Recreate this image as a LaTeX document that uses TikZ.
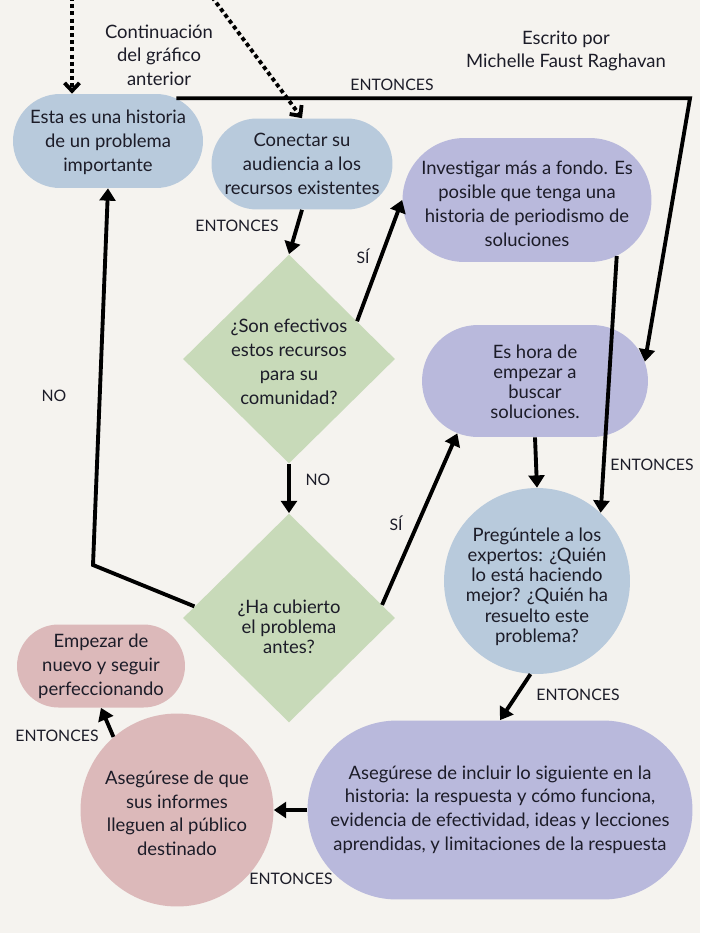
\documentclass[tikz,border=0pt]{standalone}
\usepackage{fontspec}
\setmainfont{Lato}
\usepackage{tikz}
\usepackage{xcolor}
\usetikzlibrary{arrows.meta,positioning,shapes.geometric,shapes.misc}

\definecolor{paper}{HTML}{F5F3EF}
\definecolor{bluefill}{HTML}{B8CADC}
\definecolor{purplefill}{HTML}{B9B9DC}
\definecolor{greenfill}{HTML}{C8DAB9}
\definecolor{pinkfill}{HTML}{DCB9BA}
\definecolor{ink}{HTML}{1C1C28}

% centred lines that do not change the size of a shape
\newcommand{\shapetext}[2][0pt]{\raisebox{#1}[0pt][0pt]{\makebox[0pt]{\begin{tabular}{@{}c@{}}#2\end{tabular}}}}

\begin{document}
\begin{tikzpicture}[
    x=0.02cm, y=-0.02cm,
    every node/.style={text=ink},
    pill/.style={
        rounded rectangle,
        inner sep=0pt,
        font=\fontsize{10.5}{13.6}\selectfont
    },
    round/.style={
        circle,
        inner sep=0pt,
        font=\fontsize{10.5}{13.6}\selectfont
    },
    question/.style={
        diamond,
        fill=greenfill,
        inner sep=0pt,
        minimum width=4.24cm,
        minimum height=4.18cm,
        font=\fontsize{10.5}{13.6}\selectfont
    },
    tight/.style={font=\fontsize{10.5}{11.5}\selectfont},
    note/.style={
        align=center,
        font=\fontsize{10.5}{13.4}\selectfont
    },
    tag/.style={font=\fontsize{9}{10}\selectfont},
    flowarrow/.style={line width=2.2pt,-{Triangle[length=7pt,width=9pt]}},
    dotarrow/.style={line width=2.2pt,dash pattern=on 2.3pt off 1.8pt,
        -{Straight Barb[length=4.5pt,width=8.5pt]}}
]
\fill[paper] (0,0) rectangle (700,933);
\useasboundingbox (0,0) rectangle (700,933);

% header texts
\node (cont) [note] at (159,55) {Continuación\\del gráfico\\anterior};
\node (author) [note] at (566,51) {Escrito por\\Michelle Faust Raghavan};

% boxes
\node (story) [pill, fill=bluefill, minimum width=3.8cm, minimum height=1.88cm] at (108,141)
    {\shapetext[-3.6pt]{Esta es una historia\\de un problema\\importante}};
\node (connect) [pill, fill=bluefill, minimum width=3.62cm, minimum height=1.82cm] at (302,164)
    {\shapetext[-3.8pt]{Conectar su\\audiencia a los\\recursos existentes}};
\node (research) [pill, fill=purplefill, minimum width=4.98cm, minimum height=2.48cm] at (527,200)
    {\shapetext[-5.9pt]{Investigar más a fondo. Es\\posible que tenga una\\historia de periodismo de\\soluciones}};
\node (effective) [question] at (289,359)
    {\shapetext[-5.5pt]{¿Son efectivos\\estos recursos\\para su\\comunidad?}};
\node (covered) [question, tight] at (289,618)
    {\shapetext[-9.4pt]{¿Ha cubierto\\el problema\\antes?}};
\node (searchnow) [pill, tight, fill=purplefill, minimum width=4.52cm, minimum height=2.24cm] at (535,381)
    {\shapetext[-4.6pt]{Es hora de\\empezar a\\buscar\\soluciones.}};
\node (experts) [round, tight, fill=bluefill, minimum size=3.72cm] at (537,581)
    {\shapetext[-6.6pt]{Pregúntele a los\\expertos: ¿Quién\\lo está haciendo\\mejor? ¿Quién ha\\resuelto este\\problema?}};
\node (include) [pill, fill=purplefill, minimum width=7.7cm, minimum height=3.58cm] at (500,810)
    {\shapetext[-2.8pt]{Asegúrese de incluir lo siguiente en la\\historia: la respuesta y cómo funciona,\\evidencia de efectividad, ideas y lecciones\\aprendidas, y limitaciones de la respuesta}};
\node (reach) [round, fill=pinkfill, minimum size=3.86cm] at (177,810)
    {\shapetext[-5.7pt]{Asegúrese de que\\sus informes\\lleguen al público\\destinado}};
\node (restart) [pill, fill=pinkfill, minimum width=3.36cm, minimum height=1.66cm] at (101,666)
    {\shapetext[-3.2pt]{Empezar de\\nuevo y seguir\\perfeccionando}};

% labels
\node (thenA) [tag] at (392,85) {ENTONCES};
\node (thenB) [tag] at (237,226) {ENTONCES};
\node (thenC) [tag] at (652,465) {ENTONCES};
\node (thenD) [tag] at (578,695) {ENTONCES};
\node (thenE) [tag] at (57,736) {ENTONCES};
\node (thenF) [tag] at (291,879) {ENTONCES};
\node (yesA) [tag] at (363,256) {SÍ};
\node (yesB) [tag] at (396,523) {SÍ};
\node (noA) [tag] at (54,396) {NO};
\node (noB) [tag] at (318,480) {NO};

% connectors
\coordinate (prevA) at (72,-3);
\coordinate (prevB) at (212,-3);
\coordinate (corner) at (690,98);
\coordinate (noturn) at (93,565);
\draw[dotarrow] (prevA) -- (prevA |- story.north);
\draw[dotarrow] (prevB) -- (connect.north);
\draw[flowarrow] (story.32) -- (story.32 -| corner) -- (searchnow.10);
\draw[flowarrow] (connect.south) -- (effective.north);
\draw[flowarrow] (effective.29) -- (research.west);
\draw[flowarrow] (effective.south) -- (covered.north);
\draw[flowarrow] (covered.173) -- (noturn) -- (story.south);
\draw[flowarrow] (covered.8) -- (searchnow.214);
\draw[flowarrow] (research.328) -- (experts.47);
\draw[flowarrow] (searchnow.south) -- (experts.north);
\draw[flowarrow] (experts.266) -- (include.north);
\draw[flowarrow] (include.west) -- (reach.east);
\draw[flowarrow] (reach.131) -- (restart.south);
\end{tikzpicture}
\end{document}
